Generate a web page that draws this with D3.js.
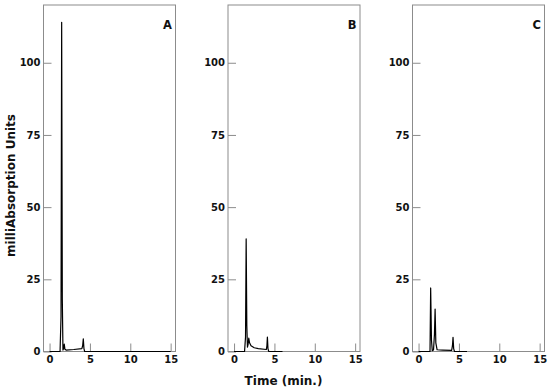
<!DOCTYPE html>
<html>
<head>
<meta charset="utf-8">
<script src="https://cdn.jsdelivr.net/npm/d3@7"></script>
<style>
  html, body { margin: 0; padding: 0; background: #fff; }
  svg { display: block; }
  text { font-family: "DejaVu Sans", sans-serif; font-weight: bold; }
</style>
</head>
<body>
<svg id="chart" width="550" height="392"></svg>
<script>
// ---- data ----
const panelLabels = ["A", "B", "C"];
const timeA  = [0, 1.3, 1.42, 1.5, 1.58, 1.66, 1.74, 1.82, 1.9, 2.05, 3.0, 4.0, 4.1, 4.18, 4.26, 4.35, 5, 15];
const valueA = [0, 0, 12, 114, 18, 0.5, 1.0, 2.6, 0.8, 0.5, 0.7, 1.0, 2.0, 4.4, 1.0, 0, 0, 0];
const timeB  = [0, 1.3, 1.42, 1.5, 1.58, 1.66, 1.74, 1.82, 1.92, 2.1, 2.5, 3.0, 4.0, 4.07, 4.13, 4.2, 4.3, 5, 6];
const valueB = [0, 0, 5, 39, 9, 1.5, 2.5, 4.6, 3.0, 2.0, 1.3, 1.0, 0.7, 2.0, 5.0, 1.0, 0, 0, 0];
const timeC  = [0, 1.3, 1.42, 1.5, 1.6, 1.7, 1.85, 1.97, 2.05, 2.14, 2.3, 3.0, 4.1, 4.2, 4.27, 4.35, 4.45, 5, 6];
const valueC = [0, 0, 0, 22, 4, 0.3, 0.5, 6, 14.7, 3, 0.6, 0.5, 0.4, 2.0, 4.9, 1.0, 0, 0, 0];
const xTicks = [0, 5, 10, 15];
const yTicks = [0, 25, 50, 75, 100];
const yTitle = "milliAbsorption Units";
const xTitle = "Time (min.)";

const series = [
  {label: panelLabels[0], t: timeA, v: valueA},
  {label: panelLabels[1], t: timeB, v: valueB},
  {label: panelLabels[2], t: timeC, v: valueC}
];

// ---- layout ----
const svg = d3.select("#chart");
const panelLeft = [43.5, 228, 412.5];
const panelW = 132;
const plotTop = 5, plotBottom = 351.5;
const frameColor = "#8c8c8c";

const y = d3.scaleLinear().domain([0, 120]).range([plotBottom, plotTop]);

series.forEach((s, i) => {
  const left = panelLeft[i];
  const x = d3.scaleLinear().domain([-0.75, 15.6]).range([left, left + panelW]);
  const g = svg.append("g");

  // frame
  g.append("rect")
    .attr("x", left).attr("y", plotTop)
    .attr("width", panelW).attr("height", plotBottom - plotTop)
    .attr("fill", "none").attr("stroke", frameColor).attr("stroke-width", 1);

  // y axis
  const ya = g.append("g").attr("transform", `translate(${left},0)`)
    .call(d3.axisLeft(y).tickValues(yTicks).tickSize(-8).tickPadding(3).tickFormat(d3.format("d")));
  ya.select(".domain").remove();
  ya.selectAll("line").attr("stroke", frameColor);
  ya.selectAll("text").attr("font-size", 10).attr("fill", "#111")
    .style("font-family", "'DejaVu Sans', sans-serif").style("font-weight", "bold");

  // x axis
  const xa = g.append("g").attr("transform", `translate(0,${plotBottom})`)
    .call(d3.axisBottom(x).tickValues(xTicks).tickSize(-8).tickPadding(4).tickFormat(d3.format("d")));
  xa.select(".domain").remove();
  xa.selectAll("line").attr("stroke", frameColor);
  xa.selectAll("text").attr("font-size", 10).attr("fill", "#111")
    .style("font-family", "'DejaVu Sans', sans-serif").style("font-weight", "bold");

  // trace
  const pts = s.t.map((t, k) => [t, s.v[k]]);
  g.append("path")
    .datum(pts)
    .attr("fill", "none")
    .attr("stroke", "#000")
    .attr("stroke-width", 1.2)
    .attr("stroke-linejoin", "round")
    .attr("d", d3.line().x(d => x(d[0])).y(d => y(d[1])));

  // panel label
  g.append("text")
    .attr("x", left + panelW - 3.5).attr("y", 29)
    .attr("text-anchor", "end")
    .attr("font-size", 11.5)
    .attr("fill", "#111")
    .text(s.label);
});

// axis titles
svg.append("text")
  .attr("transform", "translate(15,185.5) rotate(-90)")
  .attr("text-anchor", "middle")
  .attr("font-size", 12)
  .attr("fill", "#111")
  .text(yTitle);

svg.append("text")
  .attr("x", 283.5).attr("y", 385)
  .attr("text-anchor", "middle")
  .attr("font-size", 12)
  .attr("fill", "#111")
  .text(xTitle);
</script>
</body>
</html>
